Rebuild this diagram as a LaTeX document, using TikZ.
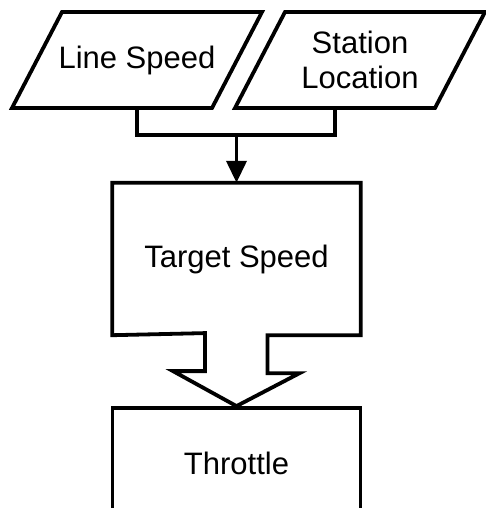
\documentclass[tikz,border=0pt]{standalone}
\usepackage{fontspec}
\setmainfont{Liberation Sans}
\usetikzlibrary{arrows.meta, calc}

\begin{document}
\begin{tikzpicture}[x=1pt, y=-1pt, >=Triangle,
  every node/.style={font=\fontsize{31}{35}\selectfont},
  flowline/.style={line width=3.8pt, line join=miter},
  iobox/.style={rectangle, minimum width=200pt, minimum height=96pt,
    inner sep=0pt, outer sep=0pt, align=center},
  procbox/.style={rectangle, minimum width=248pt, minimum height=152pt, inner sep=0pt}]

\def\slant{25}

\useasboundingbox (0,0) rectangle (486,508);
\clip (0,0) rectangle (486,508);

% inputs
\node[iobox] (LS) at (137,60) {Line Speed};
\node[iobox] (SL) at (360,60) {Station\\Location};

\foreach \n in {LS,SL}{
  \draw[flowline] ($(\n.south west)+(-\slant,0)$) -- ($(\n.north west)+(\slant,0)$)
    -- ($(\n.north east)+(\slant,0)$) -- ($(\n.south east)+(-\slant,0)$) -- cycle;
}

% process blocks
\node[procbox] (TS) at (236.5,259) {Target Speed};
\node[procbox, draw, flowline, minimum height=110pt] (TH) at (236.5,463) {Throttle};

% joining the inputs
\coordinate (jn) at ($(TS.north)+(0,-48)$);
\draw[flowline] (LS.south) |- (jn) -| ($(SL.south)+(-\slant,0)$);
\draw[flowline, -{Triangle[length=22pt,width=20pt]}] (jn) -- (TS.north);

% target speed box with block arrow to throttle
\draw[flowline] (TS.south west) |- (TS.north east) -- (TS.south east)
  -- ($(TS.south)+(31,0)$) -- ++(0,38) -- ++(32,0) -- (TH.north)
  -- ++(-63.5,-35) -- ++(32,0) -- ++(0,-38) -- cycle;

\end{tikzpicture}
\end{document}
